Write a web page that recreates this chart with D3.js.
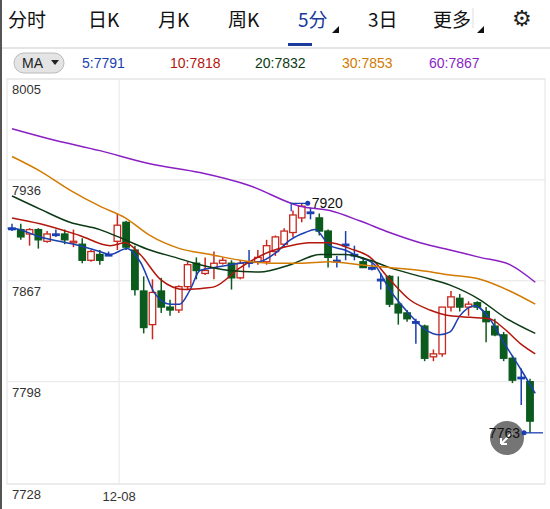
<!DOCTYPE html>
<html><head><meta charset="utf-8">
<script src="https://cdn.jsdelivr.net/npm/d3@7"></script>
<style>body{margin:0;background:#fff;font-family:"Noto Sans CJK SC","Noto Sans",sans-serif;}</style>
</head><body>
<script>
var width = 550, height = 509;

var tabs = ["分时", "日K", "月K", "周K", "5分", "3日", "更多"];
var tabX = [8, 88, 158, 228, 298, 368, 433];
var yTicks = [8005, 7936, 7867, 7798, 7728];
var dateLabel = "12-08";

// o, c, h, l
var opens  = [7903,7902,7899,7902,7894,7899,7899,7893,7892,7881,7885,7885,7894,7907,7888,7860,7837,7860,7849,7847,7863,7879,7872,7876,7879,7879,7869,7880,7880,7880,7887,7892,7900,7910,7914,7910,7901,7881,7892,7885,7880,7876,7868,7870,7851,7845,7839,7836,7815,7817,7849,7855,7849,7852,7846,7836,7830,7814,7801,7798];
var closes = [7903,7897,7902,7895,7899,7899,7895,7894,7881,7887,7881,7885,7905,7890,7861,7835,7859,7849,7847,7863,7878,7874,7874,7879,7881,7869,7879,7880,7883,7891,7897,7901,7912,7918,7914,7901,7883,7881,7892,7885,7876,7876,7868,7851,7845,7841,7839,7814,7817,7849,7856,7849,7851,7849,7839,7830,7814,7799,7801,7771];
var highs  = [7906,7906,7903,7903,7901,7902,7902,7902,7896,7888,7888,7887,7913,7908,7891,7870,7868,7869,7854,7864,7880,7883,7883,7887,7883,7881,7881,7888,7888,7895,7898,7903,7915,7920,7917,7913,7902,7884,7901,7891,7883,7879,7872,7871,7870,7847,7841,7837,7820,7820,7860,7858,7853,7853,7849,7841,7832,7816,7807,7800];
var lows   = [7901,7895,7891,7889,7893,7897,7892,7890,7879,7880,7878,7884,7888,7888,7857,7831,7827,7845,7843,7845,7861,7868,7871,7868,7878,7861,7868,7876,7878,7878,7884,7890,7897,7907,7909,7898,7876,7876,7881,7881,7876,7874,7861,7849,7837,7839,7824,7812,7812,7815,7846,7846,7843,7847,7825,7829,7812,7797,7782,7763];

var maNames = ["5", "10", "20", "30", "60"];
var maLast = [7791, 7818, 7832, 7853, 7867];
var maColors = ["#1a3fb0", "#b3160c", "#0b3a14", "#d37a00", "#8a1fc4"];
// [candle index, value]
var ma5 = [[-0.5,7903],[0,7903],[3.2,7897],[7.7,7891],[10,7887],[11.2,7885],[13.1,7889],[14.6,7880],[16.3,7858],[18,7851],[19.1,7851],[20.3,7861],[21.4,7874],[23.1,7876],[26,7879],[28.2,7880],[30,7886],[31.7,7895],[33.4,7900],[34.5,7902],[36.2,7891],[37.9,7888],[39.6,7883],[41.3,7878],[43,7861],[45.3,7844],[47,7834],[48.7,7830],[49.9,7832],[51,7843],[52.7,7850],[54.4,7841],[56.1,7824],[57.9,7807],[59.6,7790]];
var ma10 = [[0,7910],[3.2,7906],[7.7,7898],[11.2,7891],[12.9,7893],[14.6,7885],[16.9,7868],[19.7,7861],[22,7862],[23.1,7863],[26,7876],[29.4,7887],[31.7,7891],[33.9,7893],[36.2,7893],[38.5,7889],[40.8,7883],[43,7868],[45.3,7854],[47.6,7847],[49.9,7843],[52.2,7842],[54.4,7841],[56.1,7834],[57.9,7824],[59.6,7817]];
var ma20 = [[0,7925],[3.2,7916],[6.6,7907],[10,7902],[12.9,7895],[15.7,7888],[18.6,7883],[21.4,7878],[24.8,7874],[28.2,7873],[31.7,7878],[35.1,7885],[37.9,7885],[40.8,7881],[43,7876],[46.5,7870],[49.9,7864],[53.3,7854],[56.1,7842],[59.6,7831]];
var ma30 = [[0,7952],[3.2,7942],[6.6,7929],[10,7918],[12.9,7910],[15.7,7898],[19.1,7889],[22.6,7885],[26,7881],[29.4,7879],[32.8,7879],[36.2,7880],[39.6,7878],[43,7876],[46.5,7874],[49.9,7871],[53.3,7868],[56.7,7860],[59.6,7851]];
var ma60 = [[0,7971],[4.3,7964],[10,7956],[15.7,7947],[21.4,7941],[27.1,7932],[32.8,7918],[36.2,7915],[39.6,7908],[43,7900],[46.5,7893],[49.9,7888],[53.3,7883],[56.7,7878],[59.6,7866]];
var maData = [ma5, ma10, ma20, ma30, ma60];

var up = "#c8281e", down = "#0b5a1e", flat = "#1a3fb0";

var svg = d3.select("body").append("svg").attr("width", width).attr("height", height);

// tabs
svg.selectAll(".tab").data(tabs).enter().append("text")
	.attr("x", function(d, i) { return tabX[i]; })
	.attr("y", 27)
	.attr("font-size", 19)
	.attr("fill", function(d) { return d == "5分" ? "#1a3a9c" : "#111"; })
	.text(function(d) { return d; });
svg.append("path").attr("d", "M332,33 L339,33 L339,26 Z").attr("fill", "#111");
svg.append("path").attr("d", "M477,33 L484,33 L484,26 Z").attr("fill", "#111");
svg.append("rect").attr("x", 288).attr("y", 43).attr("width", 24).attr("height", 3).attr("fill", "#1a3a9c");
svg.append("line").attr("x1", 473).attr("x2", 473).attr("y1", 8).attr("y2", 28).attr("stroke", "#ddd");
svg.append("text").attr("x", 512).attr("y", 26).attr("font-size", 22).attr("font-family", "DejaVu Sans").attr("fill", "#222").text("⚙");
svg.append("line").attr("x1", 0).attr("x2", width).attr("y1", 48).attr("y2", 48).attr("stroke", "#ccc");
svg.append("line").attr("x1", 1).attr("x2", 1).attr("y1", 0).attr("y2", height).attr("stroke", "#555").attr("stroke-width", 2);

// MA legend
svg.append("rect").attr("x", 14).attr("y", 53).attr("width", 50).attr("height", 20).attr("rx", 10)
	.attr("fill", "#e4e4e4").attr("stroke", "#bbb");
svg.append("text").attr("x", 22).attr("y", 68).attr("font-size", 14).attr("font-family", "Liberation Sans").attr("fill", "#222").text("MA");
svg.append("path").attr("d", "M51,60 L59,60 L55,65 Z").attr("fill", "#222");
var legX = [82, 170, 255, 342, 429];
svg.selectAll(".leg").data(maNames).enter().append("text")
	.attr("x", function(d, i) { return legX[i]; })
	.attr("y", 68)
	.attr("font-size", 14)
	.attr("font-family", "Liberation Sans")
	.attr("fill", function(d, i) { return maColors[i]; })
	.text(function(d, i) { return d + ":" + maLast[i]; });

// scales
var x = d3.scaleLinear().domain([0, opens.length - 1]).range([12, 530]);
var y = d3.scaleLinear().domain([7728, 8005]).range([484, 79]);

var plot = svg.append("g");
plot.append("rect").attr("x", 7).attr("y", 79).attr("width", 538).attr("height", 405)
	.attr("fill", "none").attr("stroke", "#e2e2e2");
plot.selectAll(".grid").data(yTicks).enter().append("line")
	.attr("x1", 7).attr("x2", 545)
	.attr("y1", function(d) { return y(d); }).attr("y2", function(d) { return y(d); })
	.attr("stroke", "#e6e6e6");
plot.append("line").attr("x1", x(12.2)).attr("x2", x(12.2)).attr("y1", 79).attr("y2", 484).attr("stroke", "#e6e6e6");
plot.selectAll(".ylab").data(yTicks).enter().append("text")
	.attr("x", 12)
	.attr("y", function(d) { return y(d) + 15; })
	.attr("font-size", 13).attr("font-family", "Liberation Sans").attr("fill", "#333")
	.text(function(d) { return d; });
svg.append("text").attr("x", x(12.2)).attr("y", 501).attr("text-anchor", "middle")
	.attr("font-size", 13).attr("font-family", "Liberation Sans").attr("fill", "#333").text(dateLabel);

// candles
var cw = 6.5;
var idx = d3.range(opens.length);
function col(i) { return closes[i] > opens[i] ? up : (closes[i] < opens[i] ? down : flat); }
plot.selectAll(".wick").data(idx).enter().append("line")
	.attr("x1", function(i) { return x(i); }).attr("x2", function(i) { return x(i); })
	.attr("y1", function(i) { return y(highs[i]); }).attr("y2", function(i) { return y(lows[i]); })
	.attr("stroke", col).attr("stroke-width", 1.5);
plot.selectAll(".body").data(idx).enter().append("rect")
	.attr("x", function(i) { return x(i) - cw / 2; })
	.attr("y", function(i) { return y(Math.max(opens[i], closes[i])); })
	.attr("width", cw)
	.attr("height", function(i) { return Math.max(1.5, Math.abs(y(opens[i]) - y(closes[i]))); })
	.attr("fill", function(i) { return closes[i] > opens[i] ? "#fff" : col(i); })
	.attr("stroke", col).attr("stroke-width", 1.3);

// MA lines
var line = d3.line().x(function(d) { return x(d[0]); }).y(function(d) { return y(d[1]); }).curve(d3.curveMonotoneX);
plot.selectAll(".ma").data(maData).enter().append("path")
	.attr("d", line).attr("fill", "none")
	.attr("stroke", function(d, i) { return maColors[i]; }).attr("stroke-width", 1.5);

// high marker
var hi = d3.maxIndex(highs);
plot.append("path")
	.attr("d", "M" + x(hi - 1.2) + "," + (y(highs[hi]) + 8) + "V" + y(highs[hi]) + "H" + (x(hi) + 6))
	.attr("fill", "none").attr("stroke", flat).attr("stroke-width", 1.3);
plot.append("circle").attr("cx", x(hi) + 6).attr("cy", y(highs[hi])).attr("r", 2.5).attr("fill", flat);
plot.append("text").attr("x", x(hi) + 10).attr("y", y(highs[hi]) + 5).attr("font-size", 14)
	.attr("font-family", "Liberation Sans").attr("fill", "#111").text(highs[hi]);

// low marker
var lo = d3.minIndex(lows);
plot.append("circle").attr("cx", 507).attr("cy", 438).attr("r", 17).attr("fill", "#666").attr("opacity", 0.9);
plot.append("path").attr("d", "M501,444 L512,433 M501,444 L501,438 M501,444 L507,444").attr("stroke", "#fff").attr("stroke-width", 2).attr("fill", "none");
plot.append("line").attr("x1", x(lo) - 6).attr("x2", 543).attr("y1", y(lows[lo])).attr("y2", y(lows[lo]))
	.attr("stroke", flat).attr("stroke-width", 1.3);
plot.append("circle").attr("cx", x(lo) - 6).attr("cy", y(lows[lo])).attr("r", 2.5).attr("fill", flat);
plot.append("text").attr("x", x(lo) - 10).attr("y", y(lows[lo]) + 5).attr("text-anchor", "end").attr("font-size", 14)
	.attr("font-family", "Liberation Sans").attr("fill", "#111").text(lows[lo]);
</script>
</body></html>
